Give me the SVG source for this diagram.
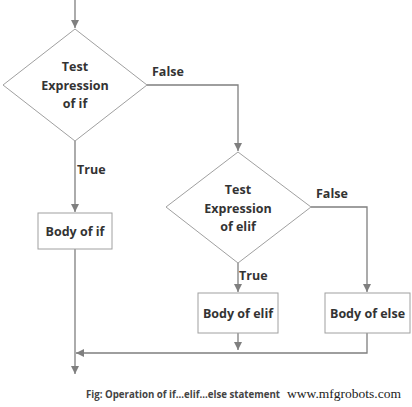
<svg xmlns="http://www.w3.org/2000/svg" width="412" height="407" viewBox="0 0 412 407">
<style>
.shape{fill:#fff;stroke:#a0a0a0;stroke-width:1}
.line{fill:none;stroke:#7f7f7f;stroke-width:1.3}
.t{font-family:"Open Sans","Liberation Sans",sans-serif;font-weight:bold;font-size:12.5px;fill:#333;text-anchor:middle}
.lbl{font-family:"Open Sans","Liberation Sans",sans-serif;font-weight:bold;font-size:12.5px;fill:#333}
</style>
<defs>
<marker id="ah" viewBox="0 0 10 10" refX="10" refY="5" markerWidth="8" markerHeight="8" markerUnits="userSpaceOnUse" orient="auto">
<path d="M0,0 L10,5 L0,10 z" fill="#7f7f7f"/>
</marker>
</defs>
<rect width="412" height="407" fill="#fff"/>
<g id="connectors">
<path class="line" d="M75,0 V28" marker-end="url(#ah)"/>
<path class="line" d="M147,85 H238 V151" marker-end="url(#ah)"/>
<path class="line" d="M75,141 V212" marker-end="url(#ah)"/>
<path class="line" d="M238,263 V292" marker-end="url(#ah)"/>
<path class="line" d="M311,207 H367 V292" marker-end="url(#ah)"/>
<path class="line" d="M75,249 V374" marker-end="url(#ah)"/>
<path class="line" d="M238,333 V350" marker-end="url(#ah)"/>
<path class="line" d="M367,333 V353 H76" marker-end="url(#ah)"/>
<text class="lbl" x="152" y="76">False</text>
<text class="lbl" x="77" y="174">True</text>
<text class="lbl" x="316" y="198">False</text>
<text class="lbl" x="239" y="280">True</text>
</g>
<g id="cond1">
<polygon class="shape" points="75,29 147,85 75,141 3,85"/>
<text class="t" x="75" y="71">Test</text>
<text class="t" x="75" y="90">Expression</text>
<text class="t" x="75" y="108">of if</text>
</g>
<g id="cond2">
<polygon class="shape" points="238,152 311,207 238,263 166,207"/>
<text class="t" x="238" y="194">Test</text>
<text class="t" x="238" y="213">Expression</text>
<text class="t" x="238" y="231">of elif</text>
</g>
<g id="bodyif">
<rect class="shape" x="38" y="213" width="74" height="36"/>
<text class="t" x="75" y="236">Body of if</text>
</g>
<g id="bodyelif">
<rect class="shape" x="198" y="293" width="80" height="40"/>
<text class="t" x="238" y="318">Body of elif</text>
</g>
<g id="bodyelse">
<rect class="shape" x="325" y="293" width="85" height="40"/>
<text class="t" x="367.5" y="318">Body of else</text>
</g>
<text x="86" y="398" font-family="Open Sans,Liberation Sans,sans-serif" font-weight="bold" font-size="10.5" fill="#444" textLength="194" lengthAdjust="spacingAndGlyphs">Fig: Operation of if...elif...else statement</text>
<text x="287" y="398" font-family="Liberation Serif,serif" font-size="13" fill="#222" textLength="114" lengthAdjust="spacingAndGlyphs">www.mfgrobots.com</text>
</svg>
